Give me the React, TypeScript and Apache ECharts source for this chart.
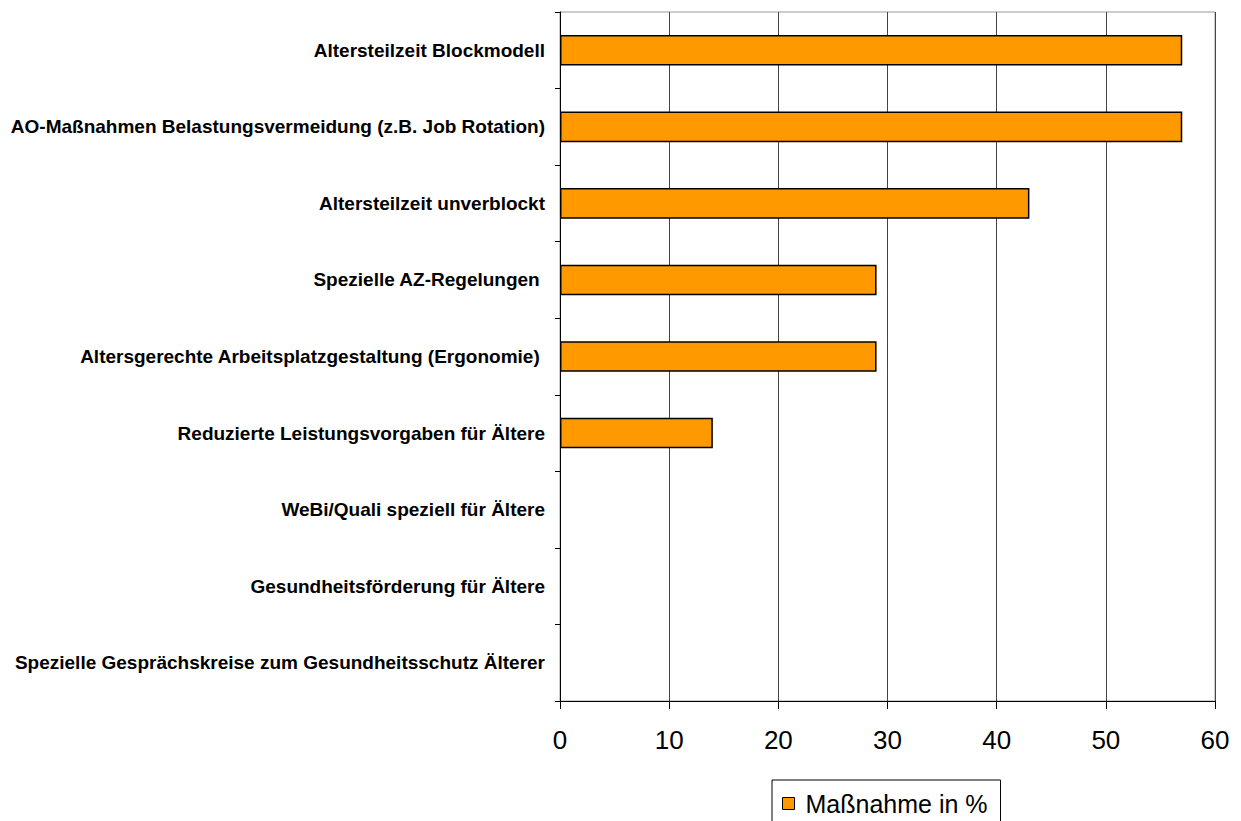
import React, { useEffect, useRef } from "react";
import * as echarts from "echarts";

const categories = [
  "Altersteilzeit Blockmodell",
  "AO-Maßnahmen Belastungsvermeidung (z.B. Job Rotation)",
  "Altersteilzeit unverblockt",
  "Spezielle AZ-Regelungen ",
  "Altersgerechte Arbeitsplatzgestaltung (Ergonomie) ",
  "Reduzierte Leistungsvorgaben für Ältere",
  "WeBi/Quali speziell für Ältere",
  "Gesundheitsförderung für Ältere",
  "Spezielle Gesprächskreise zum Gesundheitsschutz Älterer",
];
const values = [57, 57, 43, 29, 29, 14, 0, 0, 0];
const seriesName = "Maßnahme in %";
const FONT = "Liberation Sans, Arial, sans-serif";

export default function App() {
  const ref = useRef<HTMLDivElement>(null);
  useEffect(() => {
    document.body.style.margin = "0";
    const chart = echarts.init(ref.current!, null, { renderer: "svg" });
    chart.setOption({
      animation: false,
      textStyle: { fontFamily: FONT },
      grid: {
        left: 560,
        top: 12,
        right: 26,
        bottom: 120,
        show: true,
        borderColor: "#999",
        borderWidth: 1,
        containLabel: false,
      },
      legend: {
        data: [seriesName],
        left: 772,
        top: 780,
        orient: "horizontal",
        borderColor: "#000",
        borderWidth: 1,
        padding: [11, 13, 9, 10],
        itemWidth: 12,
        itemHeight: 12,
        itemGap: 6,
        icon: "rect",
        itemStyle: { color: "#FF9900", borderColor: "#000", borderWidth: 1 },
        textStyle: { fontSize: 25, color: "#000", fontFamily: FONT, padding: [0, 0, 0, 6] },
      },
      xAxis: {
        type: "value",
        min: 0,
        max: 60,
        interval: 10,
        axisLine: { show: true, lineStyle: { color: "#000", width: 1 } },
        axisTick: { show: true, length: 8, lineStyle: { color: "#000" } },
        axisLabel: { fontSize: 26, color: "#000", margin: 26 },
        splitLine: { show: true, lineStyle: { color: "#444", width: 1 } },
      },
      yAxis: {
        type: "category",
        inverse: true,
        data: categories,
        axisLine: { show: true, lineStyle: { color: "#000", width: 1 } },
        axisTick: { show: true, length: 5, alignWithLabel: false, lineStyle: { color: "#000" } },
        axisLabel: { fontSize: 19, fontWeight: "bold", color: "#000", margin: 15 },
        splitLine: { show: false },
      },
      series: [
        {
          name: seriesName,
          type: "bar",
          data: values.map((v) =>
            v === 0 ? { value: v, itemStyle: { borderWidth: 0 } } : { value: v }
          ),
          barWidth: "40%",
          itemStyle: { color: "#FF9900", borderColor: "#000", borderWidth: 1.5 },
        },
      ],
    });
    return () => chart.dispose();
  }, []);
  return <div ref={ref} style={{ width: 1241, height: 821 }} />;
}
